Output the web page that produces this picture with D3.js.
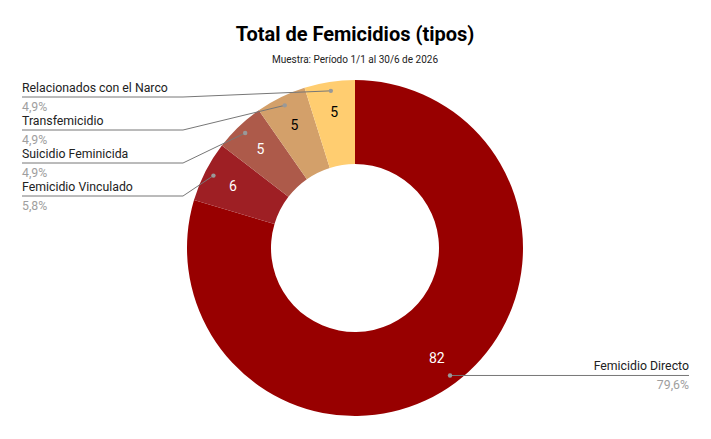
<!DOCTYPE html>
<html>
<head>
<meta charset="utf-8">
<script src="https://cdn.jsdelivr.net/npm/d3@7"></script>
<style>
  body { margin: 0; background: #fff; }
  svg { font-family: Roboto, "Noto Sans", sans-serif; }
</style>
</head>
<body>
<div id="chart"></div>
<script>
// data
const categories = ["Femicidio Directo", "Femicidio Vinculado", "Suicidio Feminicida", "Transfemicidio", "Relacionados con el Narco"]
const values = [82, 6, 5, 5, 5]
const colors = ["#980000", "#9e1f24", "#ad5a4a", "#d3a06a", "#ffcd70"]
const darkText = [false, false, false, true, true]

const width = 711
const height = 439
const cx = 355, cy = 248
const outerR = 168, innerR = 84

const svg = d3.select("#chart").append("svg")
    .attr("width", width)
    .attr("height", height)

svg.append("text")
    .attr("x", cx).attr("y", 41)
    .attr("text-anchor", "middle")
    .attr("font-size", 20)
    .attr("font-weight", "bold")
    .attr("fill", "#000")
    .text("Total de Femicidios (tipos)")

svg.append("text")
    .attr("x", cx).attr("y", 63)
    .attr("text-anchor", "middle")
    .attr("font-size", 10)
    .attr("fill", "#222")
    .text("Muestra: Período 1/1 al 30/6 de 2026")

const total = d3.sum(values)
const fmt = v => (v / total * 100).toFixed(1).replace(".", ",") + "%"

const pie = d3.pie().sort(null).value(d => d)
const arcs = pie(values)
const arc = d3.arc().innerRadius(innerR).outerRadius(outerR)
const dotArc = d3.arc().innerRadius(159).outerRadius(159)
const valArc = d3.arc().innerRadius(137).outerRadius(137)

const g = svg.append("g").attr("transform", `translate(${cx},${cy})`)

g.selectAll("path")
    .data(arcs)
    .join("path")
    .attr("d", arc)
    .attr("fill", (d, i) => colors[i])

g.selectAll("text.val")
    .data(arcs)
    .join("text")
    .attr("class", "val")
    .attr("transform", d => `translate(${valArc.centroid(d)})`)
    .attr("text-anchor", "middle")
    .attr("dy", "0.35em")
    .attr("font-size", 14)
    .attr("fill", (d, i) => darkText[i] ? "#000" : "#fff")
    .text(d => d.value)

// leader lines and labels
const labels = svg.append("g")
arcs.forEach((d, i) => {
    const [px, py] = dotArc.centroid(d)
    const dx = cx + px, dy = cy + py
    let lineY, x0, xk, anchor, tx
    if (i === 0) {
        lineY = dy
        x0 = 689; xk = dx
        anchor = "end"; tx = 689
    } else {
        // left-side labels stacked from top (last slice on top)
        lineY = 97 + (categories.length - 1 - i) * 33
        x0 = 22; xk = 183
        anchor = "start"; tx = 22
    }
    labels.append("path")
        .attr("d", `M${x0},${lineY}L${xk},${lineY}L${dx},${dy}`)
        .attr("fill", "none")
        .attr("stroke", "#777")
        .attr("stroke-width", 1)
    labels.append("circle")
        .attr("cx", dx).attr("cy", dy).attr("r", 2.2)
        .attr("fill", "#999")
    labels.append("text")
        .attr("x", tx).attr("y", lineY - 5)
        .attr("text-anchor", anchor)
        .attr("font-size", 12.3)
        .attr("fill", "#222")
        .text(categories[i])
    labels.append("text")
        .attr("x", tx).attr("y", lineY + 14)
        .attr("text-anchor", anchor)
        .attr("font-size", 12.3)
        .attr("fill", "#9e9e9e")
        .text(fmt(d.value))
})
</script>
</body>
</html>
